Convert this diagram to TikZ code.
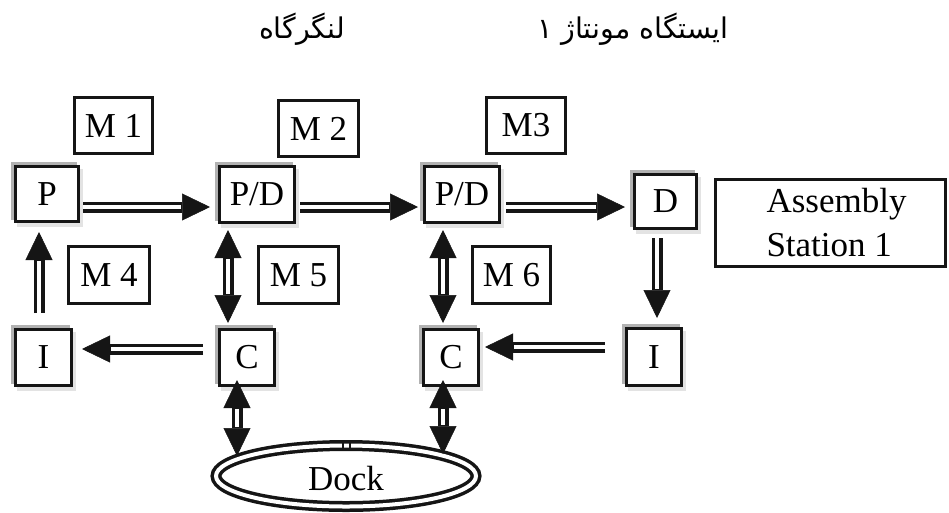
\documentclass[tikz,border=0pt]{standalone}
\usepackage{fontspec}
\setmainfont{Liberation Serif}
\newfontfamily\fa[Script=Arabic]{DejaVu Sans}
\TeXXeTstate=1
\usetikzlibrary{arrows.meta,shapes.geometric,shadows}
\definecolor{ink}{HTML}{151515}
\tikzset{
  x=1pt, y=-1pt,
  lbl/.style={font=\fontsize{35}{40}\selectfont, text=black},
  station/.style={lbl, draw=ink, line width=3pt, fill=white, inner sep=0pt,
    general shadow={fill=gray!22, draw=gray!22, shadow xshift=3pt, shadow yshift=-4pt},
    general shadow={fill=gray!60, draw=gray!60, shadow xshift=-3.5pt, shadow yshift=3.5pt}},
  mbox/.style={lbl, draw=ink, line width=3pt, fill=white, inner sep=0pt},
  tipshape/.tip={Triangle[length=28pt,width=27pt,line width=0.5pt]},
  flow/.style={draw=ink, line width=11pt, -tipshape,
    postaction={draw=white, line width=4pt, -, shorten >=29pt}},
  flowboth/.style={draw=ink, line width=11pt, tipshape-tipshape,
    postaction={draw=white, line width=4pt, -, shorten >=29pt, shorten <=29pt}},
  falabel/.style={font=\fa\fontsize{28.5}{33}\selectfont, anchor=base, inner sep=0pt}
}
\begin{document}
\begin{tikzpicture}
\useasboundingbox (0,0) rectangle (949,512);

% headings
\node[falabel, anchor=base east] (hstation) at (729,38) {\beginR ایستگاه مونتاژ ۱\endR};
\node[falabel] (hdock) at (302,38) {\beginR لنگرگاه\endR};

% stations on the loop
\node[station, minimum width=63pt, minimum height=55pt] (P)   at (47,194)    {P};
\node[station, minimum width=75pt, minimum height=56pt] (PD1) at (257,194.5) {P/D};
\node[station, minimum width=75pt, minimum height=56pt] (PD2) at (462,194.5) {P/D};
\node[station, minimum width=62pt, minimum height=54pt] (D)   at (665.5,201.5) {D};
\node[station, minimum width=56pt, minimum height=56pt] (I1)  at (43.5,357.5) {I};
\node[station, minimum width=55pt, minimum height=56pt] (C1)  at (247,357.5)  {C};
\node[station, minimum width=55pt, minimum height=56pt] (C2)  at (451,357.5)  {C};
\node[station, minimum width=55pt, minimum height=57pt] (I2)  at (654,357)    {I};

% machines
\node[mbox, minimum width=78pt, minimum height=56pt] (M1) at (113.5,125.5) {M 1};
\node[mbox, minimum width=80pt, minimum height=56pt] (M2) at (318.5,128.5) {M 2};
\node[mbox, minimum width=79pt, minimum height=56pt] (M3) at (526,125.5)   {M3};
\node[mbox, minimum width=81pt, minimum height=57pt] (M4) at (109,275)     {M 4};
\node[mbox, minimum width=80pt, minimum height=57pt] (M5) at (298.5,275)   {M 5};
\node[mbox, minimum width=78pt, minimum height=57pt] (M6) at (511.5,275)   {M 6};

% assembly station
\node[lbl, draw=ink, line width=3pt, minimum width=230pt, minimum height=87pt,
      inner sep=0pt, align=left, font=\fontsize{35}{44}\selectfont] (AS) at (830,223)
      {\hspace*{13pt}Assembly\\\hspace*{13pt}Station 1};

% dock
\node[lbl, ellipse, draw=ink, line width=3.5pt, double=white, double distance=4pt,
      minimum width=260pt, minimum height=61pt, inner sep=0pt] (dock) at (346,476) {};
\node[lbl, anchor=base] (docktext) at (346,490) {Dock};
\draw[ink, line width=2pt] (343,442) -- (343,449) (350,442) -- (350,449);
\coordinate (dockL) at (237,456);
\coordinate (dockR) at (443,454);

% material flow
\draw[flow] ([xshift=3pt,yshift=-13pt]P.east) -- ([xshift=-8pt,yshift=-12.5pt]PD1.west);
\draw[flow] ([xshift=4pt,yshift=-12.5pt]PD1.east) -- ([xshift=-5pt,yshift=-12.5pt]PD2.west);
\draw[flow] ([xshift=5pt,yshift=-12.5pt]PD2.east) -- ([xshift=-8pt,yshift=-5.5pt]D.west);
\draw[flow] ([xshift=-8.5pt,yshift=-8pt]D.south) -- ([xshift=3pt,yshift=9pt]I2.north);
\draw[flow] ([xshift=-20pt,yshift=10pt]I2.west) -- ([xshift=5pt,yshift=10.5pt]C2.east);
\draw[flow] ([xshift=-15pt,yshift=8.5pt]C1.west) -- ([xshift=9pt,yshift=8.5pt]I1.east);
\draw[flow] ([xshift=-4.5pt,yshift=15pt]I1.north) -- ([xshift=-8pt,yshift=-9pt]P.south);

% two-way links
\draw[flowboth] ([xshift=-29pt,yshift=-6pt]PD1.south) -- ([xshift=-19pt,yshift=5pt]C1.north);
\draw[flowboth] ([xshift=-19pt,yshift=-6pt]PD2.south) -- ([xshift=-8pt,yshift=5pt]C2.north);
\draw[flowboth] ([xshift=-10pt,yshift=7pt]C1.south) -- (dockL);
\draw[flowboth] ([xshift=-8pt,yshift=7pt]C2.south) -- (dockR);
\end{tikzpicture}
\end{document}
